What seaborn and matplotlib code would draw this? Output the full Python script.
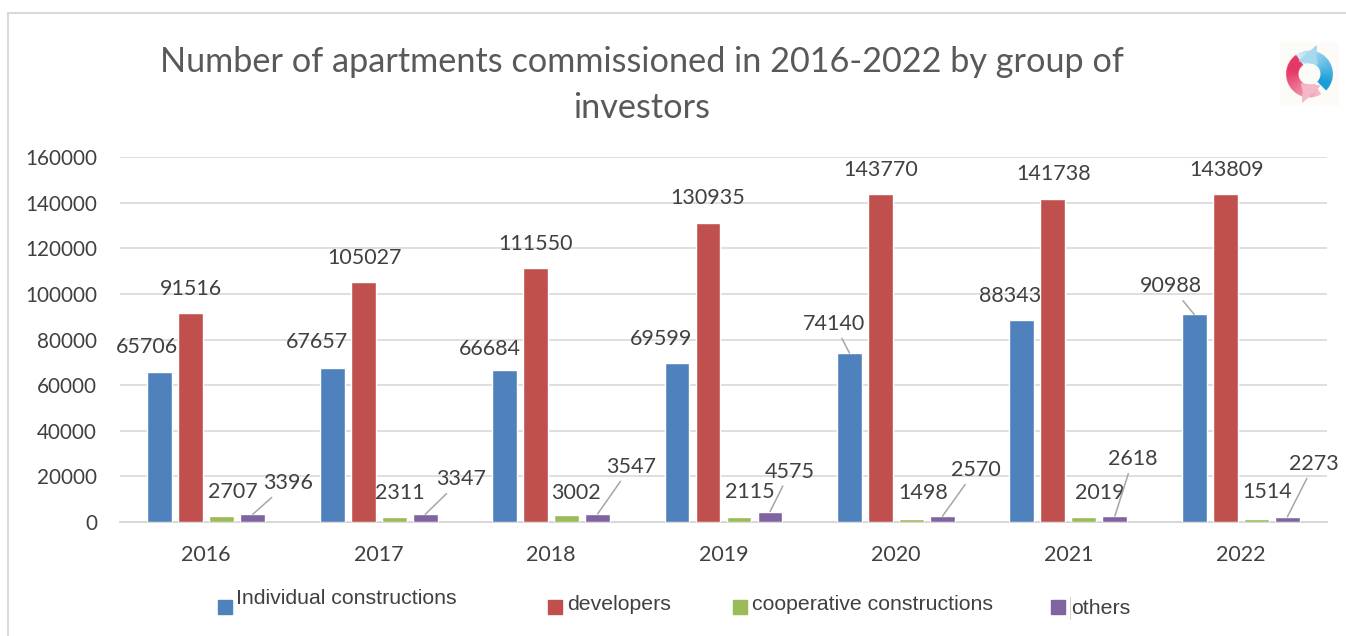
import pandas as pd
import numpy as np
import matplotlib.pyplot as plt
from matplotlib.patches import Rectangle, Polygon
import seaborn as sns

years = ['2016', '2017', '2018', '2019', '2020', '2021', '2022']
individual = [65706, 67657, 66684, 69599, 74140, 88343, 90988]
developers = [91516, 105027, 111550, 130935, 143770, 141738, 143809]
cooperative = [2707, 2311, 3002, 2115, 1498, 2019, 1514]
others = [3396, 3347, 3547, 4575, 2570, 2618, 2273]

series_names = ['Individual constructions', 'developers', 'cooperative constructions', 'others']
colors = ['#4f81bd', '#c0504d', '#9bbb59', '#8064a2']

# offset of each label from the top of its bar, in pixels (dx, dy)
label_pos = {
    0: [(-13, 25), (-15, 26), (-15, 21), (-16, 24), (-15, 29), (-12, 24), (-23, 28)],
    1: [(0, 24), (1, 24), (0, 24), (0, 25), (0, 24), (1, 25), (1, 24)],
    2: [(11, 24), (6, 24), (9, 22), (11, 25), (12, 26), (16, 24), (11, 27)],
    3: [(35, 31), (36, 35), (33, 47), (20, 40), (33, 46), (18, 57), (27, 53)],
}
# labels joined to their bar by a thin line
leaders = {(0, 4), (0, 6), (3, 0), (3, 1), (3, 2), (3, 3), (3, 4), (3, 5), (3, 6)}

df = pd.DataFrame({'year': years, series_names[0]: individual, series_names[1]: developers,
                   series_names[2]: cooperative, series_names[3]: others})
df = df.melt(id_vars='year', var_name='group', value_name='count')

W, H = 1346, 636
sns.set_theme(style='white')
plt.rcParams['font.family'] = ['Lato', 'DejaVu Sans']
fig = plt.figure(figsize=(W / 100, H / 100), dpi=100)
ax = fig.add_axes([120 / W, 1 - 522 / H, (1327 - 120) / W, (522 - 157) / H])

sns.barplot(data=df, x='year', y='count', hue='group', hue_order=series_names,
            palette=colors, saturation=1, width=0.72, gap=0.2, dodge=True, legend=False, ax=ax)

ax.set_ylim(0, 160000)
ax.set_yticks(range(0, 160001, 20000))
ax.set_xlabel('')
ax.set_ylabel('')
ax.grid(axis='y', color='#d9d9d9', linewidth=1.2)
ax.set_axisbelow(True)
for s in ['top', 'right', 'left']:
    ax.spines[s].set_visible(False)
ax.spines['bottom'].set_color('#d0d0d0')
ax.spines['bottom'].set_linewidth(1.2)
ax.spines['bottom'].set_zorder(0.5)
ax.tick_params(axis='y', length=0, labelsize=14.9, labelcolor='#404040', pad=16.5)
ax.tick_params(axis='x', length=0, labelsize=15.5, labelcolor='#404040', pad=16.5)

# value labels
for i, cont in enumerate(ax.containers):
    for j, bar in enumerate(cont):
        x = bar.get_x() + bar.get_width() / 2
        y = bar.get_height()
        dx, dy = label_pos[i][j]
        ax.annotate(str(int(y)), xy=(x, y), xytext=(dx * 0.72, dy * 0.72),
                    textcoords='offset points', ha='center', va='center',
                    fontsize=15.5, color='#404040',
                    arrowprops=dict(arrowstyle='-', color='#a6a6a6', lw=1.1, shrinkA=1, shrinkB=0)
                    if (i, j) in leaders else None)

fig.suptitle('Number of apartments commissioned in 2016-2022 by group of\ninvestors',
             x=642 / W, y=1 - 85 / H, va='center', fontsize=24.7, color='#595959', linespacing=1.55)

# legend placed by hand like in the source picture
leg_x = [218, 548, 733, 1051]
leg_tx = [236, 567, 752, 1071]
leg_y = [599, 605, 605, 609]
for k in range(4):
    fig.add_artist(Rectangle((leg_x[k] / W, 1 - 614 / H), 14 / W, 14 / H, color=colors[k],
                             transform=fig.transFigure))
    fig.text(leg_tx[k] / W, 1 - leg_y[k] / H, series_names[k], family='Liberation Sans',
             fontsize=15.3, color='#404040', va='center')
fig.add_artist(plt.Line2D([1070 / W, 1070 / W], [1 - 619 / H, 1 - 597 / H], color='#d0d0d0', lw=0.7))

# frame around the picture
fig.add_artist(plt.Line2D([8 / W, 8 / W], [0, 1 - 13 / H], color='#d9d9d9', lw=1.5))
fig.add_artist(plt.Line2D([8 / W, 1346 / W], [1 - 13 / H, 1 - 13 / H], color='#d9d9d9', lw=1.5))

# small round logo, top right: two arrows chasing each other
logo = fig.add_axes([1280 / W, 1 - 106 / H, 59 / W, 64 / H])
logo.set_xlim(-29.5, 29.5)
logo.set_ylim(-32, 32)
logo.axis('off')
logo.add_patch(Rectangle((-29.5, -32), 59, 64, color='#fdfbf8'))
xx, yy = np.meshgrid(np.linspace(-29.5, 29.5, 240), np.linspace(-32, 32, 260))
rr = np.hypot(xx, yy)
ang = np.degrees(np.arctan2(yy, xx))
ring = (rr < 23.5) & (rr > 11)


def arc_image(t, start, end):
    # t = 0 at the pale end of the arrow, 1 at the saturated end
    t = np.clip(t, 0, 1)[..., None]
    return np.asarray(start) * (1 - t) + np.asarray(end) * t


blue_t = (125 - ((ang + 60) % 360 - 60)) / 150
red_ang = (ang - 60) % 360 + 60
red_t = (300 - red_ang) / 130
blue_mask = ring & (((ang + 60) % 360 - 60) < 125) & (((ang + 60) % 360 - 60) > -45)
red_mask = ring & (red_ang > 125) & (red_ang < 300)
blue = np.dstack([arc_image(blue_t, (0.85, 0.93, 0.97), (0.10, 0.62, 0.85)), blue_mask.astype(float)])
red = np.dstack([arc_image(red_t, (0.96, 0.75, 0.80), (0.90, 0.22, 0.40)), red_mask.astype(float)])
logo.imshow(blue, extent=(-29.5, 29.5, -32, 32), origin='lower', aspect='auto', zorder=2)
logo.imshow(red, extent=(-29.5, 29.5, -32, 32), origin='lower', aspect='auto', zorder=3)
logo.add_patch(Polygon([[-10, 13], [7, 28], [6, 16], [8, 10]], color='#a9d9ef', zorder=4))
logo.add_patch(Polygon([[10, -12], [-7, -28], [-6, -17], [-8, -10]], color='#f4b9c6', zorder=4))
logo.set_xlim(-29.5, 29.5)
logo.set_ylim(-32, 32)

fig.savefig('out.png', dpi=100)
